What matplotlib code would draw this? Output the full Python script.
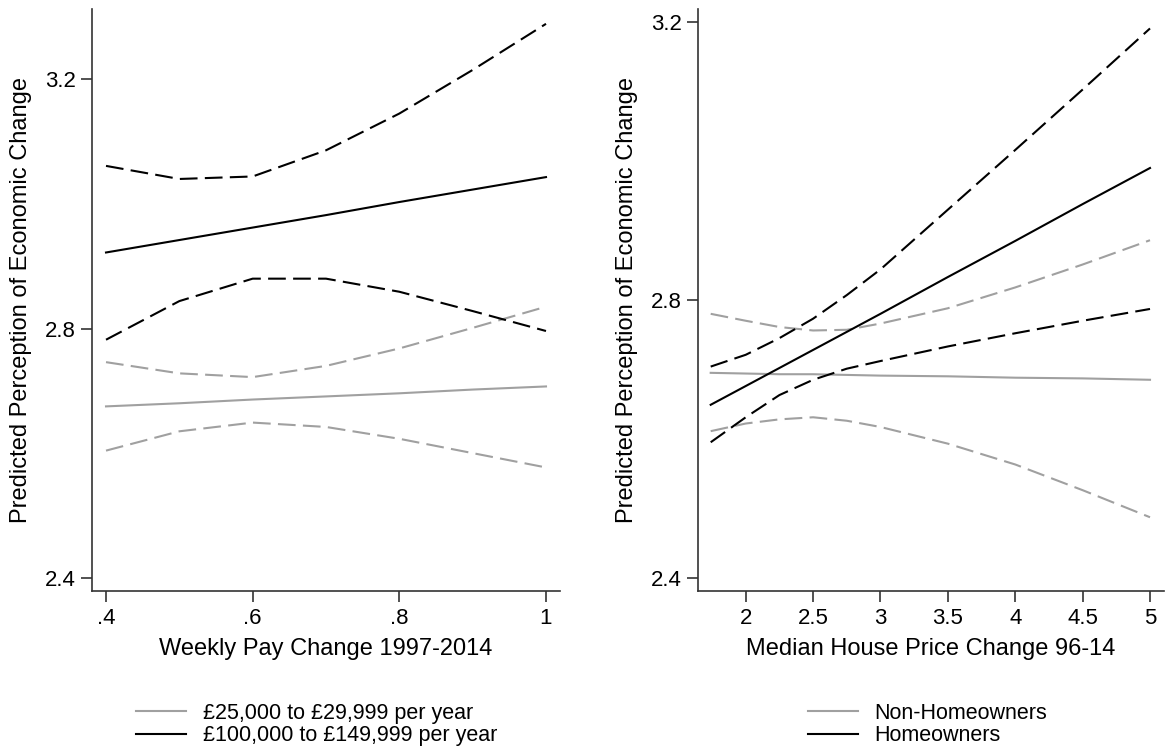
import numpy as np
import matplotlib
matplotlib.use("Agg")
import matplotlib.pyplot as plt

plt.rcParams['font.family'] = ['Liberation Sans', 'DejaVu Sans']

# left panel: weekly pay change
pay_x = [0.4, 0.5, 0.6, 0.7, 0.8, 0.9, 1.0]
low_inc_fit = [2.675, 2.680, 2.686, 2.691, 2.696, 2.702, 2.707]
low_inc_hi = [2.746, 2.728, 2.722, 2.740, 2.768, 2.801, 2.835]
low_inc_lo = [2.604, 2.635, 2.649, 2.642, 2.623, 2.600, 2.577]
high_inc_fit = [2.922, 2.942, 2.962, 2.982, 3.003, 3.023, 3.043]
high_inc_hi = [3.061, 3.040, 3.044, 3.086, 3.145, 3.215, 3.289]
high_inc_lo = [2.782, 2.844, 2.880, 2.880, 2.859, 2.828, 2.796]

# right panel: median house price change
house_x = [1.74, 2.0, 2.25, 2.5, 2.75, 3.0, 3.5, 4.0, 4.5, 5.0]
renter_fit = [2.695, 2.694, 2.693, 2.693, 2.692, 2.691, 2.690, 2.688, 2.687, 2.685]
renter_hi = [2.780, 2.770, 2.761, 2.756, 2.757, 2.766, 2.788, 2.818, 2.851, 2.886]
renter_lo = [2.611, 2.622, 2.628, 2.631, 2.626, 2.617, 2.593, 2.563, 2.526, 2.487]
owner_fit = [2.649, 2.676, 2.702, 2.728, 2.754, 2.780, 2.833, 2.885, 2.938, 2.990]
owner_hi = [2.704, 2.721, 2.745, 2.773, 2.807, 2.844, 2.930, 3.016, 3.103, 3.191]
owner_lo = [2.595, 2.631, 2.663, 2.685, 2.701, 2.712, 2.733, 2.752, 2.770, 2.787]

left_labels = ["£25,000 to £29,999 per year", "£100,000 to £149,999 per year"]
right_labels = ["Non-Homeowners", "Homeowners"]

GRAY = "#a0a0a0"
BLACK = "#000000"
TICK_FS = 16
LABEL_FS = 17
LEG_FS = 15.5
LW = 1.5
DASH = (8.5, 3.5)

fig = plt.figure(figsize=(11.66, 7.5), dpi=100)
ax1 = fig.add_axes([92.3 / 1166, 1 - 591 / 750, 467.4 / 1166, 582 / 750])
ax2 = fig.add_axes([698.3 / 1166, 1 - 591 / 750, 465.4 / 1166, 582 / 750])


def draw(ax, x, fits, his, los, colors):
    handles = []
    for fit, hi, lo, c in zip(fits, his, los, colors):
        ax.plot(x, hi, color=c, lw=LW, dashes=DASH)
        ax.plot(x, lo, color=c, lw=LW, dashes=DASH)
        h, = ax.plot(x, fit, color=c, lw=LW)
        handles.append(h)
    return handles


def style(ax, xlabel):
    for s in ['top', 'right']:
        ax.spines[s].set_visible(False)
    for s in ['left', 'bottom']:
        ax.spines[s].set_linewidth(1.2)
        ax.spines[s].set_color('#333333')
    ax.tick_params(axis='both', length=8, width=1.2, color='#333333',
                   labelsize=TICK_FS, pad=4)
    ax.set_xlabel(xlabel, fontsize=LABEL_FS, labelpad=7)
    ax.set_ylabel("Predicted Perception of Economic Change", fontsize=LABEL_FS,
                  labelpad=9)


h1 = draw(ax1, pay_x, [low_inc_fit, high_inc_fit], [low_inc_hi, high_inc_hi],
          [low_inc_lo, high_inc_lo], [GRAY, BLACK])
ax1.set_xlim(0.3813, 1.0187)
ax1.set_ylim(2.3787, 3.3128)
ax1.set_xticks([0.4, 0.6, 0.8, 1.0])
ax1.set_xticklabels([".4", ".6", ".8", "1"])
ax1.set_yticks([2.4, 2.8, 3.2])
ax1.set_yticklabels(["2.4", "2.8", "3.2"])
style(ax1, "Weekly Pay Change 1997-2014")

h2 = draw(ax2, house_x, [renter_fit, owner_fit], [renter_hi, owner_hi],
          [renter_lo, owner_lo], [GRAY, BLACK])
ax2.set_xlim(1.648, 5.1016)
ax2.set_ylim(2.3808, 3.219)
ax2.set_xticks([2, 2.5, 3, 3.5, 4, 4.5, 5])
ax2.set_xticklabels(["2", "2.5", "3", "3.5", "4", "4.5", "5"])
ax2.set_yticks([2.4, 2.8, 3.2])
ax2.set_yticklabels(["2.4", "2.8", "3.2"])
style(ax2, "Median House Price Change 96-14")

for ax, hs, labs, x0 in [(ax1, h1, left_labels, 136 / 1166),
                         (ax2, h2, right_labels, 808 / 1166)]:
    ax.legend(hs, labs, loc='upper left', bbox_to_anchor=(x0, 1 - 703 / 750),
              bbox_transform=fig.transFigure, frameon=False, fontsize=LEG_FS,
              borderpad=0, borderaxespad=0, handlelength=2.3,
              handletextpad=0.8, labelspacing=0.05)

fig.savefig("out.png", dpi=100)
